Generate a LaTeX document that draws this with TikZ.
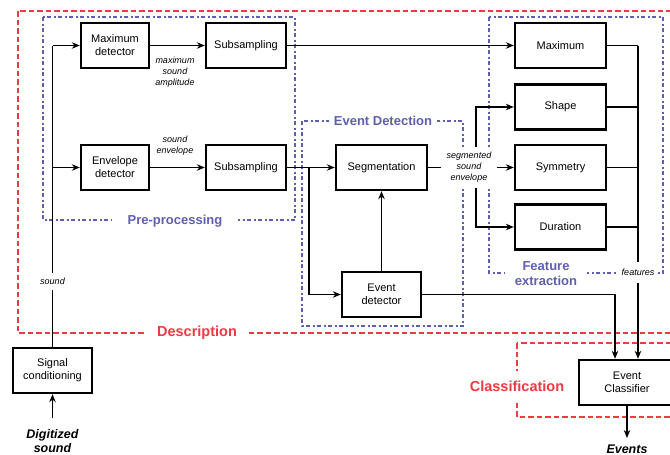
\documentclass[tikz,border=0pt]{standalone}
\usepackage{fontspec}
\setmainfont{Liberation Sans}
\usetikzlibrary{arrows.meta}
\definecolor{myred}{HTML}{EE3A42}
\definecolor{myblue}{HTML}{5F5FB0}
\begin{document}
\begin{tikzpicture}[x=1pt,y=-1pt,
  blk/.style={draw, line width=2.4pt, align=center, inner sep=0pt, font=\fontsize{11}{13}\selectfont},
  lab/.style={font=\itshape\fontsize{9}{11}\selectfont, align=center, inner sep=1pt},
  con/.style={line width=1.2pt},
  arr/.style={con, -{Stealth[length=8pt,width=6.5pt]}},
  redbox/.style={draw=myred, line width=2.4pt, dash pattern=on 5.5pt off 3pt},
  bluebox/.style={draw=myblue, line width=2.4pt, dash pattern=on 4pt off 2.5pt on 2pt off 2.5pt},
  grp/.style={font=\bfseries\fontsize{13}{15}\selectfont, align=center, fill=white},
  rgrp/.style={grp, font=\bfseries\fontsize{14.5}{16}\selectfont, text=myred},
]
\useasboundingbox (0,0) rectangle (670,455);

% group frames
\draw[redbox] (18,11) rectangle (690,333);
\draw[redbox] (517,343) rectangle (690,417);
\draw[bluebox] (43,17) rectangle (295,220);
\draw[bluebox] (302,121) rectangle (463,326);
\draw[bluebox] (489,17) rectangle (663,273);

% blocks
\node[blk, minimum width=68pt, minimum height=45pt] (maxdet) at (115,45.5) {Maximum\\detector};
\node[blk, minimum width=80pt, minimum height=45pt] (sub1) at (246,45.5) {Subsampling};
\node[blk, minimum width=68pt, minimum height=45pt] (envdet) at (115,167.5) {Envelope\\detector};
\node[blk, minimum width=80pt, minimum height=45pt] (sub2) at (246,167.5) {Subsampling};
\node[blk, minimum width=91pt, minimum height=45pt] (seg) at (381.5,167.5) {Segmentation};
\node[blk, minimum width=79pt, minimum height=45pt] (evdet) at (381.5,294.5) {Event\\detector};
\node[blk, minimum width=91pt, minimum height=45pt] (fmax) at (560.5,45.5) {Maximum};
\node[blk, minimum width=91pt, minimum height=45pt] (fshape) at (560.5,107) {Shape};
\node[blk, minimum width=91pt, minimum height=45pt] (fsym) at (560.5,167.5) {Symmetry};
\node[blk, minimum width=91pt, minimum height=45pt] (fdur) at (560.5,227) {Duration};
\node[blk, minimum width=79pt, minimum height=45pt] (sigc) at (52.5,370.5) {Signal\\conditioning};
\node[blk, minimum width=96pt, minimum height=45pt] (cls) at (627,382.5) {Event\\Classifier};

% free ends and branch points
\coordinate (in) at (52.5,418);
\coordinate (out) at (627,438);
\coordinate (sbr) at (52.5,45.5);
\coordinate (ebr) at (309,167.5);
\coordinate (fbr) at (476,167.5);
\coordinate (ftop) at (638,45.5);

% connectors
\draw[arr] (in) -- (sigc.south);
\draw[con] (sigc.north) -- (sbr);
\draw[arr] (sbr) -- (maxdet.west);
\draw[arr] (sbr |- envdet.west) -- (envdet.west);
\draw[arr] (maxdet) -- (sub1);
\draw[arr] (envdet) -- (sub2);
\draw[arr] (sub1.east) -- (fmax.west);
\draw[arr] (sub2.east) -- (seg.west);
\draw[arr] (ebr) |- (evdet.west);
\draw[arr] (evdet.north) -- (seg.south);
\draw[arr] (seg.east) -- (fsym.west);
\draw[arr] (fbr) |- (fshape.west);
\draw[arr] (fbr) |- (fdur.west);
\draw[con] (fmax.east) -- (ftop);
\draw[con] (fshape.east) -- (ftop |- fshape.east);
\draw[con] (fsym.east) -- (ftop |- fsym.east);
\draw[con] (fdur.east) -- (ftop |- fdur.east);
\draw[arr] (ftop) -- (ftop |- cls.north);
\draw[arr] (evdet.east) -| ([xshift=-12pt]cls.north);
\draw[arr] (cls.south) -- (out);

% connector labels
\node[lab] (lmax) at (175,72) {maximum\\sound\\amplitude};
\node[lab] (lenv) at (175,146) {sound\\envelope};
\node[lab, fill=white, inner ysep=5pt] (lsound) at (52.5,281.5) {sound};
\node[lab, fill=white, inner xsep=6pt, inner ysep=5pt] (lseg) at (469,167.5) {segmented\\sound\\envelope};
\node[lab, fill=white, inner xsep=4pt, inner ysep=7pt] (lfeat) at (638,272.5) {features};

% group labels
\node[rgrp, inner xsep=10pt, inner ysep=1pt] (gdesc) at (197,333) {Description};
\node[rgrp, inner xsep=2pt, inner ysep=10pt] (gcls) at (517,386) {Classification};
\node[grp, text=myblue, inner xsep=16pt, inner ysep=1pt] (gpre) at (175,221) {Pre-processing};
\node[grp, text=myblue, inner xsep=5pt, inner ysep=1pt] (gevd) at (383,121) {Event Detection};
\node[grp, text=myblue, inner xsep=10pt, inner ysep=1pt] (gfeat) at (546,273.5) {Feature\\extraction};

% input / output texts
\node[font=\bfseries\itshape\fontsize{12.5}{14}\selectfont, align=center] (tin) at (52.5,441.5) {Digitized\\sound};
\node[font=\bfseries\itshape\fontsize{12.5}{14}\selectfont] (tout) at (627,449) {Events};
\end{tikzpicture}
\end{document}
